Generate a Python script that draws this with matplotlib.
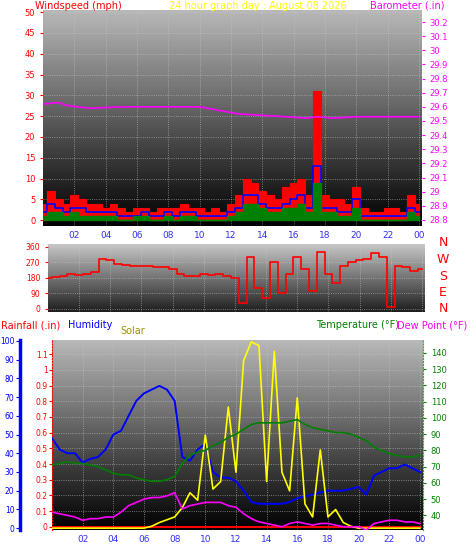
import numpy as np
import matplotlib.pyplot as plt

# time axis, half-hour steps
hours = np.arange(0, 24.5, 0.5)

# windspeed (mph)
gust = [4, 7, 5, 4, 6, 5, 4, 4, 3, 4, 3, 2, 3, 3, 2, 3, 3, 3, 4, 3, 3, 2, 3, 2,
        4, 6, 10, 9, 7, 6, 5, 8, 9, 10, 6, 31, 6, 5, 5, 4, 8, 3, 2, 2, 3, 3, 2, 6, 4]
avg = [2, 4, 3, 2, 3, 3, 2, 2, 2, 2, 1, 1, 1, 2, 1, 1, 2, 1, 2, 2, 1, 1, 1, 1,
       2, 3, 6, 6, 4, 3, 3, 4, 5, 6, 3, 13, 3, 3, 2, 2, 5, 1, 1, 1, 1, 1, 1, 3, 2]
low = [1, 2, 2, 1, 2, 1, 1, 1, 1, 1, 0, 0, 1, 1, 0, 0, 1, 0, 1, 1, 0, 0, 0, 0,
       1, 2, 4, 4, 3, 2, 2, 3, 3, 4, 2, 9, 2, 2, 1, 1, 3, 0, 0, 0, 0, 0, 0, 2, 1]
baro_h = [0, 1, 1.5, 3, 5, 9, 10, 11, 12.5, 14, 15.5, 16.8, 17.5, 18.5, 20, 22, 24]
baro = [29.62, 29.63, 29.61, 29.59, 29.60, 29.60, 29.60, 29.58, 29.55, 29.54,
        29.53, 29.52, 29.53, 29.52, 29.53, 29.53, 29.53]

# wind direction (deg)
wdir = [180, 185, 190, 200, 195, 200, 215, 290, 280, 260, 255, 250, 245, 245, 240, 240,
        230, 200, 190, 190, 200, 195, 200, 190, 180, 30, 300, 120, 60, 270, 90, 200,
        300, 230, 100, 330, 200, 150, 250, 270, 280, 290, 320, 300, 10, 250, 240, 220, 230]

# bottom panel
humidity = [48, 42, 40, 40, 35, 37, 38, 42, 50, 52, 60, 68, 72, 74, 76, 74,
            68, 38, 36, 42, 45, 30, 27, 27, 25, 20, 14, 13, 13, 13, 13, 14,
            16, 17, 18, 19, 20, 20, 20, 21, 22, 18, 28, 30, 32, 32, 34, 32, 30]
temp = [71, 72, 73, 72, 72, 71, 70, 68, 66, 65, 65, 63, 62, 61, 61, 62,
        64, 72, 77, 79, 80, 83, 85, 88, 90, 93, 96, 97, 97, 97, 97, 98,
        99, 96, 94, 93, 92, 91, 91, 90, 88, 86, 82, 80, 78, 77, 76, 76, 77]
dew = [42, 41, 40, 39, 37, 38, 38, 39, 39, 42, 46, 48, 50, 51, 51, 52,
       54, 44, 46, 47, 48, 48, 48, 46, 45, 41, 38, 36, 35, 34, 33, 35,
       36, 35, 34, 35, 35, 34, 33, 33, 33, 31, 35, 36, 37, 37, 36, 36, 35]
solar = [0] * 12 + [0, 10, 30, 45, 60, 110, 190, 150, 500, 210, 250, 650, 300, 900,
                    1000, 980, 250, 950, 300, 200, 700, 130, 60, 420, 60, 100, 30, 10,
                    0, 0, 0, 0, 0, 0, 0, 0, 0]
rain = [0] * len(hours)

xt = np.arange(2, 25, 2)
xl = ['%02d' % (h % 24) for h in xt]

W, H = 470, 554
fig = plt.figure(figsize=(W / 100, H / 100), dpi=100)


def box(x0, y0, x1, y1):
    return fig.add_axes([x0 / W, 1 - y1 / H, (x1 - x0) / W, (y1 - y0) / H])


def bg(ax, top, bot):
    g = np.linspace(top, bot, 100).reshape(-1, 1)
    ax.imshow(g, extent=[0, 1, 0, 1], transform=ax.transAxes, aspect='auto',
              cmap='gray', vmin=0, vmax=1, zorder=0)
    ax.grid(True, color='#c8c8c8', ls=':', lw=0.6, alpha=0.7)
    ax.set_axisbelow(True)


def xaxis(ax):
    ax.set_xlim(0, 24.2)
    ax.set_xticks(xt)
    ax.set_xticklabels(xl, color='#3030ff', fontsize=6.5)
    ax.tick_params(axis='x', length=0)


# ---- top: wind + barometer
ax1 = box(43, 10, 422, 226)
bg(ax1, 0.72, 0.0)
ax1.fill_between(hours, gust, step='mid', color='red', lw=0.8, zorder=2)
ax1.step(hours, avg, where='mid', color='blue', lw=1.2, zorder=3)
ax1.fill_between(hours, low, step='mid', color='green', zorder=4)
ax1.set_ylim(-1.4, 50.5)
ax1.set_yticks(range(0, 51, 5))
ax1.tick_params(axis='y', colors='red', labelsize=6, length=2)
for s in ax1.spines.values():
    s.set_visible(False)
xaxis(ax1)
b = ax1.twinx()
b.plot(baro_h, baro, color='magenta', lw=1.2)
b.set_ylim(28.757, 30.285)
b.set_yticks(np.round(np.arange(28.8, 30.25, 0.1), 1))
b.set_yticklabels(['%g' % v for v in np.round(np.arange(28.8, 30.25, 0.1), 1)])
b.tick_params(axis='y', colors='magenta', labelsize=6, length=2)
for s in b.spines.values():
    s.set_visible(False)
fig.text(35 / W, 1 - 6 / H, 'Windspeed (mph)', color='red', fontsize=7, va='center')
fig.text(258 / W, 1 - 6 / H, '24 hour graph day : August 08 2026', color='yellow',
         fontsize=7, va='center', ha='center')
fig.text(445 / W, 1 - 6 / H, 'Barometer (.in)', color='magenta', fontsize=7,
         va='center', ha='right')

# ---- middle: wind direction
ax2 = box(48, 244, 425, 312)
bg(ax2, 0.78, 0.12)
ax2.step(hours, wdir, where='mid', color='red', lw=1.2, zorder=3)
ax2.set_ylim(-20, 375)
ax2.set_yticks(range(0, 361, 90))
ax2.tick_params(axis='y', colors='red', labelsize=5.5, length=2)
ax2.set_xlim(0, 24.2)
ax2.set_xticks(xt)
ax2.set_xticklabels([])
ax2.tick_params(axis='x', length=0)
for s in ax2.spines.values():
    s.set_visible(False)
for i, c in enumerate(['N', 'W', 'S', 'E', 'N']):
    fig.text(443 / W, 1 - (243 + i * 16.5) / H, c, color='red', fontsize=9,
             ha='center', va='center')

# ---- bottom: rain, humidity, solar, temperature, dew point
ax3 = box(52, 340, 423, 530)
bg(ax3, 0.72, 0.0)
ax3.plot(hours, rain, color='red', lw=1.5, zorder=5)
ax3.set_ylim(-0.02, 1.19)
ax3.set_yticks(np.round(np.arange(0, 1.15, 0.1), 1))
ax3.set_yticklabels(['%g' % v for v in np.round(np.arange(0, 1.15, 0.1), 1)])
ax3.tick_params(axis='y', colors='red', labelsize=5.5, length=2, pad=1)
for s in ax3.spines.values():
    s.set_visible(False)
ax3.spines['left'].set_visible(True)
ax3.spines['left'].set_color('red')
ax3.spines['left'].set_linestyle(':')
xaxis(ax3)

hu = ax3.twinx()
hu.yaxis.set_ticks_position('left')
hu.spines['left'].set_position(('outward', 23))
hu.spines['left'].set_color('blue')
hu.spines['left'].set_linewidth(2.5)
for k in ['right', 'top', 'bottom']:
    hu.spines[k].set_visible(False)
hu.plot(hours, humidity, color='blue', lw=1.4)
hu.set_ylim(-1, 100.5)
hu.set_yticks(range(0, 101, 10))
hu.tick_params(axis='y', colors='blue', labelsize=5.5, length=3, pad=1,
               labelleft=True, labelright=False)

so = ax3.twinx()
so.plot(hours, solar, color='yellow', lw=1.2)
so.set_ylim(-10, 1010)
so.set_yticks([])
for s in so.spines.values():
    s.set_visible(False)

te = ax3.twinx()
te.plot(hours, temp, color='green', lw=1.2)
te.plot(hours, dew, color='magenta', lw=1.2)
te.set_ylim(31, 148)
te.set_yticks(range(40, 141, 10))
te.tick_params(axis='y', colors='green', labelsize=6, length=2)
for s in te.spines.values():
    s.set_visible(False)
te.spines['right'].set_visible(True)
te.spines['right'].set_color('#40a040')
te.spines['right'].set_linestyle(':')

fig.text(1 / W, 1 - 325 / H, 'Rainfall (.in)', color='red', fontsize=7, va='center')
fig.text(68 / W, 1 - 325 / H, 'Humidity', color='blue', fontsize=7, va='center')
fig.text(120 / W, 1 - 331 / H, 'Solar', color='#a09000', fontsize=7, va='center')
fig.text(316 / W, 1 - 325 / H, 'Temperature (°F)', color='green', fontsize=7, va='center')
fig.text(467 / W, 1 - 325 / H, 'Dew Point (°F)', color='magenta', fontsize=7,
         va='center', ha='right')

fig.savefig('out.png', dpi=100, facecolor='white')
